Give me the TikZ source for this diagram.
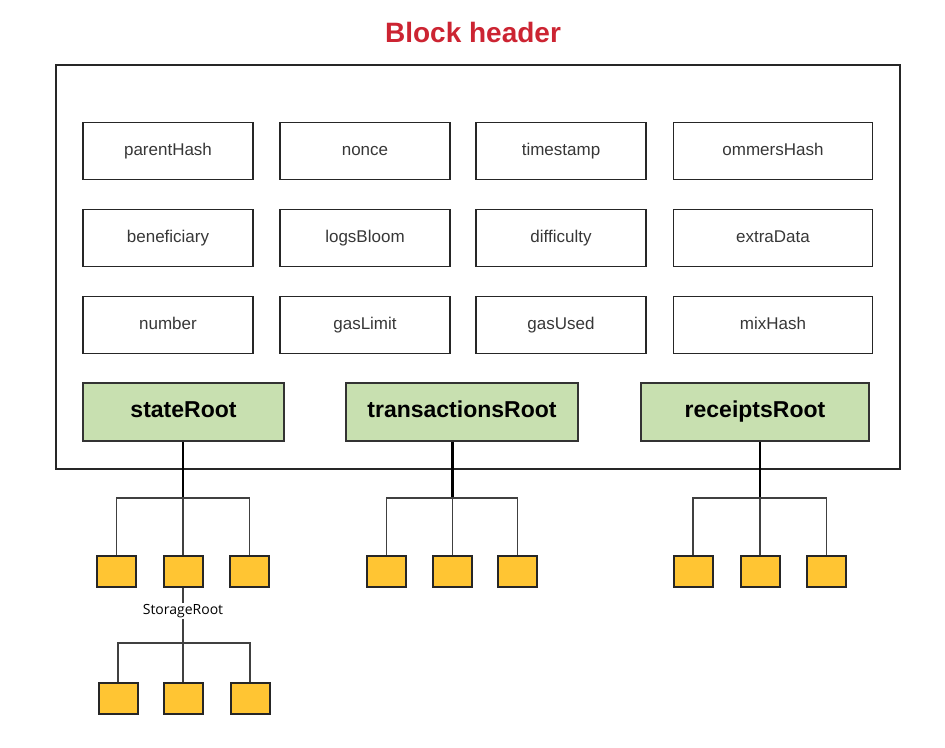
\documentclass[tikz,border=0pt]{standalone}
\usepackage{fontspec}
\setmainfont{Liberation Sans}
\newfontfamily\smalllabel{Open Sans}
\usetikzlibrary{positioning}
\definecolor{titlered}{RGB}{204,36,50}
\definecolor{rootgreen}{RGB}{200,224,176}
\definecolor{leafyellow}{RGB}{255,197,51}
\definecolor{fieldgray}{RGB}{55,55,55}

\begin{document}
\begin{tikzpicture}[x=1pt,y=1pt,on grid,node distance=87pt and 197pt,
		field/.style={draw=black!85,line width=1.7pt,minimum width=170pt,minimum height=57pt,text=fieldgray,
			text height=12pt,text depth=3.5pt,font=\fontsize{17}{19}\selectfont},
		root/.style={draw=black!80,line width=1.6pt,fill=rootgreen,minimum height=58pt,
			text height=16pt,text depth=4.5pt,font=\bfseries\fontsize{23}{25}\selectfont},
		leaf/.style={draw=black!85,line width=2pt,fill=leafyellow,minimum width=39pt,minimum height=31pt},
		stem/.style={line width=2.6pt},
		twig/.style={line width=1.6pt,draw=black!75}]
		\useasboundingbox (0,0) rectangle (945,-747);

		\node[font=\bfseries\fontsize{28}{32}\selectfont,text=titlered] (title) at (473,-32) {Block header};
		\node[draw=black!85,line width=1.7pt,minimum width=844pt,minimum height=404pt] (header) at (478,-267) {};

		\node[field] 					(parent) 	at (168,-151)			{parentHash};
		\node[field] 					(nonce) 	[right=of parent]		{nonce};
		\node[field] 					(time) 		[right=196pt of nonce]	{timestamp};
		\node[field,minimum width=199pt](ommers) 	[right=212pt of time]	{ommersHash};
		\node[field] 					(benef) 	[below=of parent]		{beneficiary};
		\node[field] 					(logs) 		[below=of nonce]		{logsBloom};
		\node[field] 					(diff) 		[below=of time]			{difficulty};
		\node[field,minimum width=199pt](extra) 	[below=of ommers]		{extraData};
		\node[field] 					(number) 	[below=of benef]		{number};
		\node[field] 					(gaslim) 	[below=of logs]			{gasLimit};
		\node[field] 					(gasused) 	[below=of diff]			{gasUsed};
		\node[field,minimum width=199pt](mix) 		[below=of extra]		{mixHash};

		\node[root,minimum width=201pt]	(state) 	at (183.5,-412)			{stateRoot};
		\node[root,minimum width=232pt]	(txs) 		at (462,-412)			{transactionsRoot};
		\node[root,minimum width=228pt]	(rcpt) 		at (755,-412)			{receiptsRoot};

		% leaves under each root
		\node[leaf] 	(sb) 	at (183,-571.5) 		{};
		\node[leaf] 	(sa) 	[left=66.5pt of sb] 	{};
		\node[leaf] 	(sc) 	[right=66.5pt of sb] 	{};
		\node[leaf] 	(tb) 	at (452.5,-571.5) 		{};
		\node[leaf] 	(ta) 	[left=66pt of tb] 		{};
		\node[leaf] 	(tc) 	[right=65pt of tb] 		{};
		\node[leaf] 	(rb) 	at (760,-571.5) 		{};
		\node[leaf] 	(ra) 	[left=67pt of rb] 		{};
		\node[leaf] 	(rc) 	[right=66.5pt of rb] 	{};

		\node[fill=white,inner sep=1pt,font=\smalllabel\fontsize{14}{16}\selectfont] (storage) at (183,-611) {StorageRoot};
		\node[leaf] 	(ssb) 	[below=126.5pt of sb] 	{};
		\node[leaf] 	(ssa) 	[left=65pt of ssb] 		{};
		\node[leaf] 	(ssc) 	[right=67pt of ssb] 	{};

		\coordinate[above=73.5pt of sb] (sfork);
		\coordinate[above=73.5pt of tb] (tfork);
		\coordinate[above=73.5pt of rb] (rfork);
		\coordinate[above=55pt of ssb] (ssfork);

		\draw[stem] (state.south -| sb) -- (sfork);
		\draw[stem] (txs.south -| tb) -- (tfork);
		\draw[stem] (rcpt.south -| rb) -- (rfork);

		\draw[twig] (sa) |- (sfork) -| (sc) (sfork) -- (sb);
		\draw[twig] (ta) |- (tfork) -| (tc) (tfork) -- (tb);
		\draw[twig] (ra) |- (rfork) -| (rc) (rfork) -- (rb);
		\draw[twig] (sb) -- (storage) (storage) -- (ssfork);
		\draw[twig] (ssa) |- (ssfork) -| (ssc) (ssfork) -- (ssb);
\end{tikzpicture}
\end{document}
